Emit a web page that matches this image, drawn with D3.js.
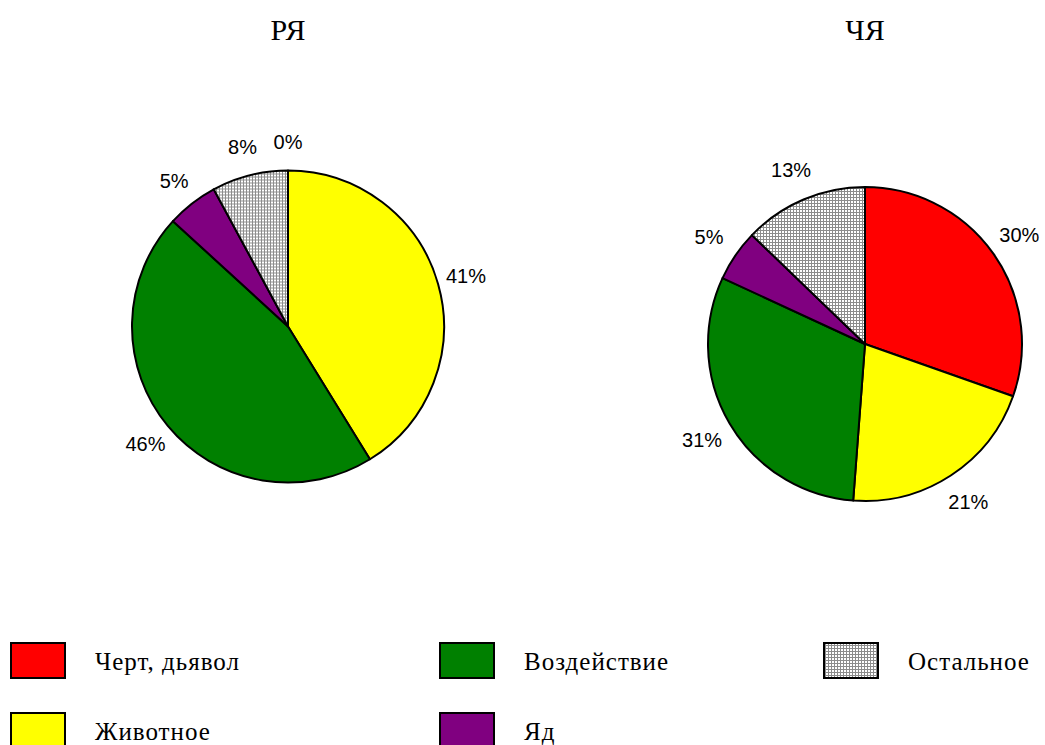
<!DOCTYPE html>
<html><head><meta charset="utf-8">
<script src="https://cdn.jsdelivr.net/npm/d3@7"></script>
<style>body{margin:0;background:#fff}</style>
</head><body>
<svg id="c" width="1045" height="745"></svg>
<script>
const categories = ["Черт, дьявол","Животное","Воздействие","Яд","Остальное"];
const colors = ["#ff0000","#ffff00","#008000","#800080","url(#grid)"];
const titles = ["РЯ","ЧЯ"];
const valuesRY = [0, 41.2, 45.6, 5.3, 7.9];
const valuesCHY = [30.4, 20.8, 30.7, 5.3, 12.8];

const svg = d3.select("#c");
const defs = svg.append("defs");
const pat = defs.append("pattern").attr("id","grid").attr("patternUnits","userSpaceOnUse")
  .attr("width",3).attr("height",3);
pat.append("rect").attr("width",3).attr("height",3).attr("fill","#fff");
pat.append("path").attr("d","M0,0.5H3M0.5,0V3").attr("stroke","#8c8c8c").attr("stroke-width",1).attr("fill","none");

const pies = [
  {title:titles[0], values:valuesRY, cx:288, cy:326.5, r:156, lr:185},
  {title:titles[1], values:valuesCHY, cx:865, cy:344, r:157, lr:189}
];
const pie = d3.pie().sort(null).value(d=>d);
pies.forEach(p=>{
  svg.append("text").attr("x",p.cx).attr("y",40).attr("text-anchor","middle")
    .attr("font-family","Liberation Serif").attr("font-size",30).text(p.title);
  const g = svg.append("g").attr("transform",`translate(${p.cx},${p.cy})`);
  const arcs = pie(p.values);
  const arc = d3.arc().innerRadius(0).outerRadius(p.r);
  g.selectAll("path").data(arcs.filter(d=>d.value>0)).join("path")
    .attr("d",arc).attr("fill",d=>colors[d.index])
    .attr("stroke","#000").attr("stroke-width",2).attr("stroke-linejoin","round");
  const larc = d3.arc().innerRadius(p.lr).outerRadius(p.lr);
  g.selectAll("text").data(arcs).join("text")
    .attr("transform",d=>`translate(${larc.centroid(d)})`)
    .attr("text-anchor","middle").attr("dy","0.35em")
    .attr("font-family","Liberation Sans").attr("font-size",20)
    .text(d=>Math.round(d.value)+"%");
});

const legPos = [[11,643],[11,713],[440,643],[440,713],[824,643]];
categories.forEach((c,i)=>{
  const [x,y]=legPos[i];
  svg.append("rect").attr("x",x).attr("y",y).attr("width",54).attr("height",35)
    .attr("fill",colors[i]).attr("stroke","#000").attr("stroke-width",2);
  svg.append("text").attr("x",x+84).attr("y",y+27)
    .attr("font-family","Liberation Serif").attr("font-size",25)
    .attr("letter-spacing",1).text(c);
});
</script>
</body></html>
